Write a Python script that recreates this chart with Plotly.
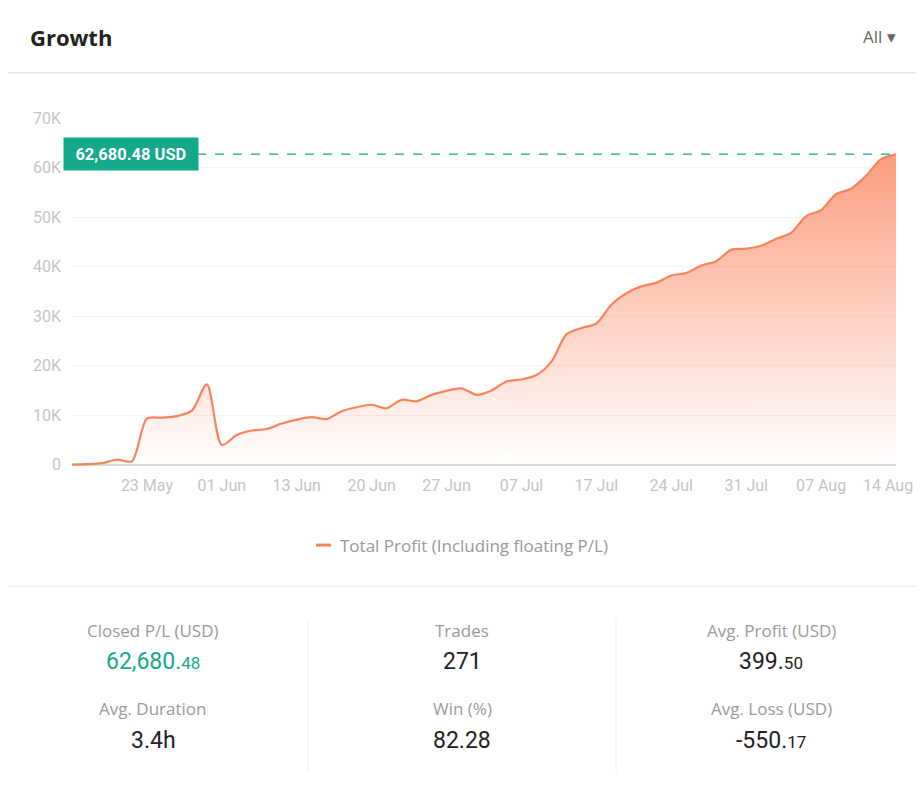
import plotly.graph_objects as go

# ---------------- data ----------------
profit_k = [0, 0.1, 0.3, 1.0, 0.7, 9.3, 9.5, 9.8, 10.9, 16.2,
            4.0, 6.0, 6.9, 7.2, 8.3, 9.1, 9.6, 9.2, 10.8, 11.6,
            12.1, 11.4, 13.1, 12.8, 14.1, 14.9, 15.4, 14.1, 15.0, 16.8,
            17.2, 18.1, 20.8, 26.3, 27.6, 28.5, 32.3, 34.6, 36.0, 36.7,
            38.2, 38.7, 40.2, 41.1, 43.4, 43.6, 44.2, 45.6, 46.8, 50.2,
            51.4, 54.6, 55.7, 58.3, 61.7, 62.68048]
profit = [v * 1000 for v in profit_k]
x_index = list(range(len(profit)))

tick_labels = ["23 May", "01 Jun", "13 Jun", "20 Jun", "27 Jun", "07 Jul",
               "17 Jul", "24 Jul", "31 Jul", "07 Aug", "14 Aug"]
tick_positions = [5, 10, 15, 20, 25, 30, 35, 40, 45, 50, 55]

y_ticks = [0, 10000, 20000, 30000, 40000, 50000, 60000, 70000]
y_tick_text = ["0", "10K", "20K", "30K", "40K", "50K", "60K", "70K"]

stat_labels = ["Closed P/L (USD)", "Trades", "Avg. Profit (USD)",
               "Avg. Duration", "Win (%)", "Avg. Loss (USD)"]
stat_main = ["62,680.", "271", "399.", "3.4h", "82.28", "-550."]
stat_dec = ["48", "", "50", "", "", "17"]

series_name = "Total Profit (Including floating P/L)"
last_label = "62,680.48 USD"

# ---------------- layout helpers ----------------
# figure sized to sit inside the page's default body margin; the vertical
# placement is calibrated to how the page is photographed
OFF_X, OFF_Y = 8, 17
W, H = 908, 768
SY, BY = 0.9743, 1.98


def fx(px):
    return (px - OFF_X) / W


def fy(py):
    intended = (py - BY) / SY
    return 1 - (intended - OFF_Y) / H


LINE = "#F7845A"
TEAL = "#14A98B"
TICK_COLOR = "#C4C4C4"

y_lo, y_hi = -600, 70000
plot_left, plot_right = 72, 896
top_px, zero_px = 119, 464
ppu = (zero_px - top_px) / 70000
bottom_px = zero_px + (0 - y_lo) * ppu

fig = go.Figure()
fig.add_trace(go.Scatter(
    x=x_index, y=profit, mode="lines", name=series_name,
    line=dict(color=LINE, width=2.2, shape="spline", smoothing=0.8),
    fill="tozeroy",
    fillgradient=dict(type="vertical",
                      colorscale=[[0, "rgba(252,140,105,0.0)"],
                                  [1, "rgba(252,140,105,0.85)"]]),
    showlegend=False, hoverinfo="x+y",
))

# the last tick sits on the right edge; it is drawn separately so it stays
# inside the figure
fig.update_layout(
    width=W, height=H, autosize=False,
    margin=dict(l=0, r=0, t=0, b=0),
    paper_bgcolor="white", plot_bgcolor="white",
    font=dict(family="Roboto, sans-serif"),
    xaxis=dict(domain=[fx(plot_left), fx(plot_right)], range=[0, len(profit) - 1],
               tickmode="array", tickvals=tick_positions[:-1], ticktext=tick_labels[:-1],
               showgrid=False, zeroline=False, showline=False,
               tickfont=dict(size=16, color=TICK_COLOR, family="Roboto"),
               ticks="", ticklabelstandoff=6, fixedrange=True),
    yaxis=dict(domain=[fy(bottom_px), fy(top_px)], range=[y_lo, y_hi],
               tickmode="array", tickvals=y_ticks, ticktext=y_tick_text,
               showgrid=True, gridcolor="#F3F3F3", gridwidth=1,
               zeroline=True, zerolinecolor="#DADADA", zerolinewidth=2,
               tickfont=dict(size=16, color=TICK_COLOR, family="Roboto"),
               ticks="", ticklabelstandoff=10, fixedrange=True),
)

shapes = []
# separators
shapes.append(dict(type="line", xref="paper", yref="paper", x0=0, x1=1,
                   y0=fy(74), y1=fy(74), line=dict(color="#E3E3E3", width=1.5)))
shapes.append(dict(type="line", xref="paper", yref="paper", x0=0, x1=1,
                   y0=fy(585), y1=fy(585), line=dict(color="#F0F0F0", width=1.5)))
for vx in (308, 616):
    shapes.append(dict(type="line", xref="paper", yref="paper", x0=fx(vx), x1=fx(vx),
                       y0=fy(617), y1=fy(770), line=dict(color="#F0F0F0", width=1)))
# dashed line at last value
shapes.append(dict(type="line", xref="paper", yref="y", x0=fx(197), x1=fx(plot_right),
                   y0=profit[-1], y1=profit[-1],
                   line=dict(color=TEAL, width=1.2, dash="dash")))
# legend swatch
shapes.append(dict(type="line", xref="paper", yref="paper", x0=fx(316), x1=fx(331),
                   y0=fy(544), y1=fy(544), line=dict(color=LINE, width=3)))
fig.update_layout(shapes=shapes)

ann = []
ann.append(dict(text=tick_labels[-1], xref="x", yref="paper", x=tick_positions[-1],
                y=fy(485), xanchor="right", yanchor="middle", xshift=19,
                showarrow=False,
                font=dict(size=16, color=TICK_COLOR, family="Roboto")))
ann.append(dict(text="<b>Growth</b>", xref="paper", yref="paper", x=fx(28), y=fy(38),
                xanchor="left", yanchor="middle", showarrow=False,
                font=dict(size=22, color="#222222", family="Open Sans")))
ann.append(dict(text="All \u25BE", xref="paper", yref="paper", x=fx(898), y=fy(38),
                xanchor="right", yanchor="middle", showarrow=False,
                font=dict(size=17, color="#666666", family="Open Sans")))
ann.append(dict(text="<b>" + last_label + "</b>", xref="paper", yref="y", x=fx(63),
                y=profit[-1], xanchor="left", yanchor="middle", showarrow=False,
                width=134, height=32, align="center", bgcolor=TEAL, borderpad=0,
                font=dict(size=16.5, color="white", family="Roboto")))
ann.append(dict(text=series_name, xref="paper", yref="paper", x=fx(338), y=fy(544),
                xanchor="left", yanchor="middle", showarrow=False,
                font=dict(size=17, color="#999999", family="Open Sans")))

col_x = [153, 462, 771]
row_label_y = [629, 707]
row_value_y = [660, 738]
for i in range(6):
    c = i % 3
    r = i // 3
    ann.append(dict(text=stat_labels[i], xref="paper", yref="paper", x=fx(col_x[c]),
                    y=fy(row_label_y[r]), xanchor="center", yanchor="middle",
                    showarrow=False,
                    font=dict(size=17, color="#9A9A9A", family="Open Sans")))
    color = TEAL if i == 0 else "#222222"
    txt = stat_main[i]
    if stat_dec[i]:
        txt += '<span style="font-size:17px">' + stat_dec[i] + "</span>"
    ann.append(dict(text=txt, xref="paper", yref="paper", x=fx(col_x[c]),
                    y=fy(row_value_y[r]), xanchor="center", yanchor="middle",
                    showarrow=False,
                    font=dict(size=23, color=color, family="Roboto")))
fig.update_layout(annotations=ann)

fig.write_html("out.html", config={"displayModeBar": False})
